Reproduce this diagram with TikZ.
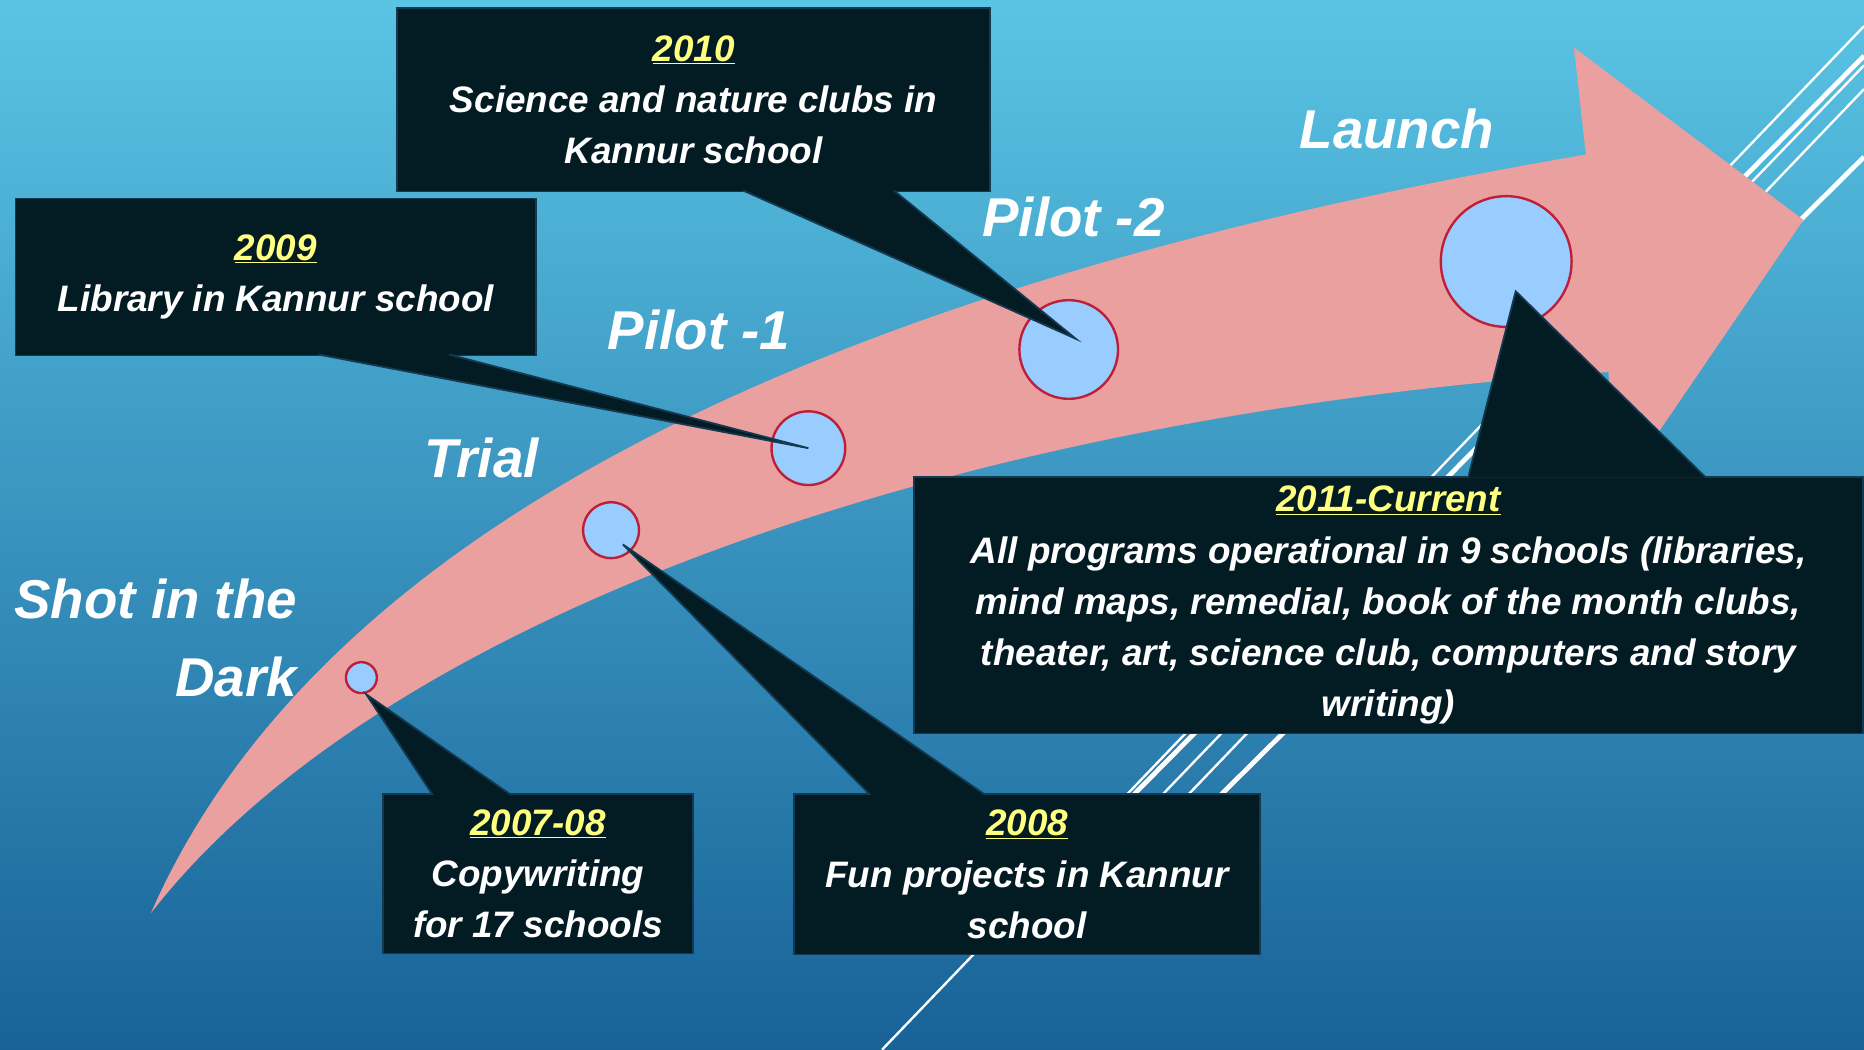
\documentclass[tikz,border=0pt]{standalone}
\usepackage{fontspec}
\setmainfont{Liberation Sans}
\usetikzlibrary{calc}

\definecolor{bgtop}{RGB}{90,196,228}
\definecolor{bgbottom}{RGB}{24,98,152}
\definecolor{arrowpink}{RGB}{235,160,160}
\definecolor{dotfill}{RGB}{153,204,255}
\definecolor{dotline}{RGB}{190,30,55}
\definecolor{boxfill}{RGB}{3,28,36}
\definecolor{boxline}{RGB}{20,58,82}
\definecolor{yearyellow}{RGB}{255,255,128}

\newcommand{\yr}[1]{{\color{yearyellow}\underline{#1}}}

\begin{document}
\begin{tikzpicture}[x=1pt, y=-1pt,
    callout/.style = {draw=boxline, fill=boxfill, line width=1.5pt, text=white, align=center, inner sep=0pt, font=\fontsize{31}{43}\selectfont\bfseries\itshape},
    wedge/.style = {draw=boxline, fill=boxfill, line width=1.5pt},
    dot/.style = {draw=dotline, fill=dotfill, circle, line width=2pt, inner sep=0pt},
    stage/.style = {text=white, inner sep=0pt, font=\fontsize{46}{65}\selectfont\bfseries\itshape},
    slash/.style = {white, line width=2pt}]
        \useasboundingbox (0,0) rectangle (1568,883);
        \clip (0,0) rectangle (1568,883);
        \shade[top color=bgtop, bottom color=bgbottom] (0,0) rectangle (1568,883);

        \draw[slash] (742,883) -- (1568,22);
        \draw[slash, line width=4pt] (880,743) -- (1568,47);
        \draw[slash] (909,740) -- (1568,55);
        \draw[slash] (931,740) -- (1568,75);
        \draw[slash, line width=4pt] (955,740) -- (1568,132);

        \fill[arrowpink] (127,768) .. controls (280,420) and (750,230) .. (1334,130)
            -- (1324,40) -- (1517,185) -- (1360,415) -- (1353,313)
            .. controls (800,350) and (320,520) .. (127,768) -- cycle;

        \node[dot, minimum size=26pt] (c1) at (304,570) {};
        \node[dot, minimum size=47pt] (c2) at (514,446) {};
        \node[dot, minimum size=62pt] (c3) at (680,377) {};
        \node[dot, minimum size=83pt] (c4) at (899,294) {};
        \node[dot, minimum size=110pt] (c5) at (1267,220) {};

        \node[callout, minimum width=499pt, minimum height=154pt] (b2010) at (583.5,84) {\yr{2010}\\Science and nature clubs in\\Kannur school};
        \node[callout, minimum width=438pt, minimum height=132pt] (b2009) at (232,233) {\yr{2009}\\Library in Kannur school};
        \node[callout, minimum width=261pt, minimum height=134pt] (b0708) at (452.5,735) {\yr{2007-08}\\Copywriting\\for 17 schools};
        \node[callout, minimum width=392pt, minimum height=135pt] (b2008) at (864,735.5) {\yr{2008}\\Fun projects in Kannur\\school};
        \node[callout, minimum width=798pt, minimum height=216pt] (b2011) at (1168,509) {\yr{2011-Current}\\All programs operational in 9 schools (libraries,\\mind maps, remedial, book of the month clubs,\\theater, art, science club, computers and story\\writing)};

        \filldraw[wedge] ([xshift=41.5pt, yshift=1.5pt]b2010.south) -- ([shift={(6,-9)}]c4.center) -- ([xshift=168.5pt, yshift=1.5pt]b2010.south);
        \filldraw[wedge] ([xshift=36pt, yshift=1.5pt]b2009.south) -- (c3.center) -- ([xshift=146pt, yshift=1.5pt]b2009.south);
        \filldraw[wedge] ([xshift=-88.5pt, yshift=-1.5pt]b0708.north) -- ([xshift=4pt]c1.south) -- ([xshift=-22.5pt, yshift=-1.5pt]b0708.north);
        \filldraw[wedge] ([xshift=-132pt, yshift=-1.5pt]b2008.north) -- ([shift={(10,12)}]c2.center) -- ([xshift=-35pt, yshift=-1.5pt]b2008.north);
        \filldraw[wedge] ([xshift=67pt, yshift=-1.5pt]b2011.north) -- ([shift={(8,25)}]c5.center) -- ([xshift=267pt, yshift=-1.5pt]b2011.north);

        \node[stage, anchor=base] (launch) at (1175,125) {Launch};
        \node[stage, anchor=base] (pilot2) at (903,199) {Pilot -2};
        \node[stage, anchor=base] (pilot1) at (588,294) {Pilot -1};
        \node[stage, anchor=base] (trial) at (405,402) {Trial};
        \node[stage, anchor=north east, align=right] (shot) at (250,487) {Shot in the\\Dark};

    \end{tikzpicture}
\end{document}
